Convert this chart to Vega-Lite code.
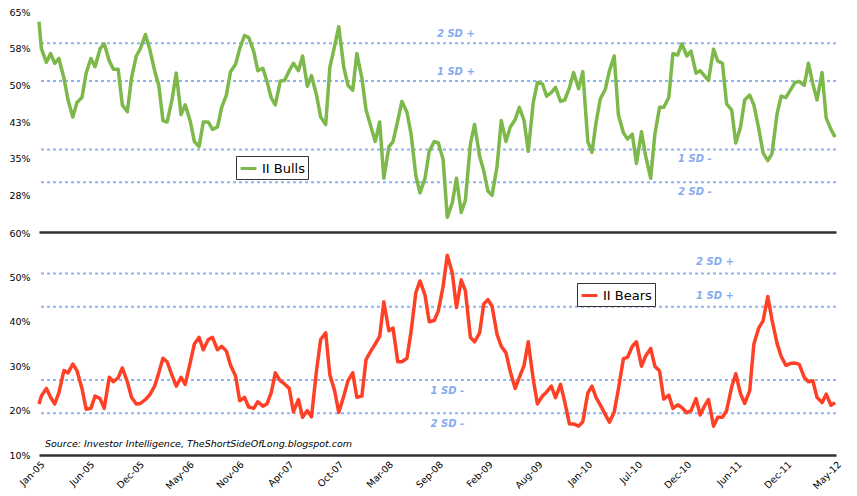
{
  "$schema": "https://vega.github.io/schema/vega-lite/v6.json",
  "padding": {"left": 8, "top": 7, "right": 15, "bottom": 0},
  "background": "white",
  "spacing": -4,
  "datasets": {
    "ii": [
      {"d": "2005-01-07", "bull": 63, "bear": 21.5},
      {"d": "2005-01-15", "bull": 57.5, "bear": 23.3},
      {"d": "2005-02-01", "bull": 54.7, "bear": 25},
      {"d": "2005-02-15", "bull": 56.5, "bear": 23},
      {"d": "2005-03-01", "bull": 54.5, "bear": 21.5},
      {"d": "2005-03-15", "bull": 55.5, "bear": 24},
      {"d": "2005-04-01", "bull": 51.5, "bear": 29},
      {"d": "2005-04-15", "bull": 47, "bear": 28.5},
      {"d": "2005-05-01", "bull": 43.5, "bear": 30.5},
      {"d": "2005-05-15", "bull": 46.5, "bear": 29},
      {"d": "2005-06-01", "bull": 47.5, "bear": 25},
      {"d": "2005-06-15", "bull": 52.5, "bear": 20.3},
      {"d": "2005-07-01", "bull": 55.5, "bear": 20.5},
      {"d": "2005-07-15", "bull": 53.8, "bear": 23.3},
      {"d": "2005-08-01", "bull": 57.5, "bear": 22.7},
      {"d": "2005-08-15", "bull": 58.5, "bear": 20.5},
      {"d": "2005-09-01", "bull": 55, "bear": 27.5},
      {"d": "2005-09-15", "bull": 53.3, "bear": 26.5},
      {"d": "2005-10-01", "bull": 53.3, "bear": 27.4},
      {"d": "2005-10-15", "bull": 46, "bear": 29.6},
      {"d": "2005-11-01", "bull": 44.6, "bear": 26.5},
      {"d": "2005-11-15", "bull": 51.5, "bear": 23},
      {"d": "2005-12-01", "bull": 56, "bear": 21.5},
      {"d": "2005-12-15", "bull": 57.5, "bear": 21.6},
      {"d": "2006-01-01", "bull": 60.4, "bear": 22.5},
      {"d": "2006-01-15", "bull": 57.5, "bear": 23.5},
      {"d": "2006-02-01", "bull": 53, "bear": 25.5},
      {"d": "2006-02-15", "bull": 50, "bear": 28.5},
      {"d": "2006-03-01", "bull": 42.8, "bear": 31.8},
      {"d": "2006-03-15", "bull": 42.5, "bear": 31},
      {"d": "2006-04-01", "bull": 47.2, "bear": 27.9},
      {"d": "2006-04-15", "bull": 52.5, "bear": 25.5},
      {"d": "2006-05-01", "bull": 44, "bear": 27.5},
      {"d": "2006-05-15", "bull": 46, "bear": 25.9},
      {"d": "2006-06-01", "bull": 42.7, "bear": 30.8},
      {"d": "2006-06-15", "bull": 38.5, "bear": 35},
      {"d": "2006-07-01", "bull": 37.5, "bear": 36.5},
      {"d": "2006-07-15", "bull": 42.5, "bear": 33.7},
      {"d": "2006-08-01", "bull": 42.5, "bear": 36},
      {"d": "2006-08-15", "bull": 41, "bear": 36.5},
      {"d": "2006-09-01", "bull": 41.5, "bear": 33.7},
      {"d": "2006-09-15", "bull": 45.5, "bear": 34.5},
      {"d": "2006-10-01", "bull": 48, "bear": 33.4},
      {"d": "2006-10-15", "bull": 52.8, "bear": 30.2},
      {"d": "2006-11-01", "bull": 54.3, "bear": 27.8},
      {"d": "2006-11-15", "bull": 57.5, "bear": 22.2},
      {"d": "2006-12-01", "bull": 60.2, "bear": 23},
      {"d": "2006-12-15", "bull": 59.8, "bear": 20.8},
      {"d": "2007-01-01", "bull": 57, "bear": 20.5},
      {"d": "2007-01-15", "bull": 53, "bear": 22},
      {"d": "2007-02-01", "bull": 53.5, "bear": 21},
      {"d": "2007-02-15", "bull": 50.8, "bear": 21.5},
      {"d": "2007-03-01", "bull": 47.5, "bear": 24},
      {"d": "2007-03-15", "bull": 46, "bear": 28.5},
      {"d": "2007-04-01", "bull": 50.9, "bear": 26.7},
      {"d": "2007-04-15", "bull": 51, "bear": 26},
      {"d": "2007-05-01", "bull": 53, "bear": 25},
      {"d": "2007-05-15", "bull": 54.5, "bear": 19.7},
      {"d": "2007-06-01", "bull": 53, "bear": 22.5},
      {"d": "2007-06-15", "bull": 56, "bear": 18.5},
      {"d": "2007-07-01", "bull": 49.8, "bear": 20},
      {"d": "2007-07-15", "bull": 52, "bear": 18.6},
      {"d": "2007-08-01", "bull": 48, "bear": 29},
      {"d": "2007-08-15", "bull": 43.5, "bear": 36},
      {"d": "2007-09-01", "bull": 42, "bear": 37.5},
      {"d": "2007-09-15", "bull": 53.7, "bear": 28},
      {"d": "2007-10-01", "bull": 58, "bear": 24.5},
      {"d": "2007-10-15", "bull": 62, "bear": 19.6},
      {"d": "2007-11-01", "bull": 53.7, "bear": 23.3},
      {"d": "2007-11-15", "bull": 50, "bear": 26.7},
      {"d": "2007-12-01", "bull": 49, "bear": 28.5},
      {"d": "2007-12-15", "bull": 56.5, "bear": 23},
      {"d": "2008-01-01", "bull": 51.5, "bear": 23.3},
      {"d": "2008-01-15", "bull": 45, "bear": 31.5},
      {"d": "2008-02-01", "bull": 41.4, "bear": 33.5},
      {"d": "2008-02-15", "bull": 38.5, "bear": 35},
      {"d": "2008-03-01", "bull": 42.5, "bear": 36.7},
      {"d": "2008-03-15", "bull": 31, "bear": 44.5},
      {"d": "2008-04-01", "bull": 37.4, "bear": 38},
      {"d": "2008-04-15", "bull": 38.5, "bear": 38.6},
      {"d": "2008-05-01", "bull": 42.8, "bear": 31},
      {"d": "2008-05-15", "bull": 46.7, "bear": 31},
      {"d": "2008-06-01", "bull": 44.5, "bear": 31.8},
      {"d": "2008-06-15", "bull": 40, "bear": 37.9},
      {"d": "2008-07-01", "bull": 31.5, "bear": 46.6},
      {"d": "2008-07-15", "bull": 28, "bear": 49.2},
      {"d": "2008-08-01", "bull": 31, "bear": 46},
      {"d": "2008-08-15", "bull": 36.5, "bear": 40},
      {"d": "2008-09-01", "bull": 38.5, "bear": 40.3},
      {"d": "2008-09-15", "bull": 38.2, "bear": 42.5},
      {"d": "2008-10-01", "bull": 34.8, "bear": 48},
      {"d": "2008-10-15", "bull": 23, "bear": 55},
      {"d": "2008-11-01", "bull": 26, "bear": 51},
      {"d": "2008-11-15", "bull": 31, "bear": 43.2},
      {"d": "2008-12-01", "bull": 24, "bear": 49.4},
      {"d": "2008-12-15", "bull": 26.5, "bear": 47},
      {"d": "2009-01-01", "bull": 38, "bear": 36.5},
      {"d": "2009-01-15", "bull": 42, "bear": 35.5},
      {"d": "2009-02-01", "bull": 35.5, "bear": 37.5},
      {"d": "2009-02-15", "bull": 32.5, "bear": 44},
      {"d": "2009-03-01", "bull": 28.4, "bear": 45},
      {"d": "2009-03-15", "bull": 27.5, "bear": 43.5},
      {"d": "2009-04-01", "bull": 33.5, "bear": 37.1},
      {"d": "2009-04-15", "bull": 42.8, "bear": 34.5},
      {"d": "2009-05-01", "bull": 38.5, "bear": 33},
      {"d": "2009-05-15", "bull": 41.4, "bear": 28.9},
      {"d": "2009-06-01", "bull": 43, "bear": 25},
      {"d": "2009-06-15", "bull": 45.5, "bear": 27.5},
      {"d": "2009-07-01", "bull": 42.8, "bear": 30.2},
      {"d": "2009-07-15", "bull": 36.5, "bear": 35.5},
      {"d": "2009-08-01", "bull": 46.5, "bear": 27},
      {"d": "2009-08-15", "bull": 50.6, "bear": 21.5},
      {"d": "2009-09-01", "bull": 50.3, "bear": 23.3},
      {"d": "2009-09-15", "bull": 47.8, "bear": 24.2},
      {"d": "2009-10-01", "bull": 48.5, "bear": 25.5},
      {"d": "2009-10-15", "bull": 49.6, "bear": 22.9},
      {"d": "2009-11-01", "bull": 46.7, "bear": 25.9},
      {"d": "2009-11-15", "bull": 47, "bear": 22},
      {"d": "2009-12-01", "bull": 49.5, "bear": 17},
      {"d": "2009-12-15", "bull": 52.6, "bear": 17},
      {"d": "2010-01-01", "bull": 49.3, "bear": 16.5},
      {"d": "2010-01-15", "bull": 52.8, "bear": 17.5},
      {"d": "2010-02-01", "bull": 38.5, "bear": 24},
      {"d": "2010-02-15", "bull": 36.3, "bear": 25.5},
      {"d": "2010-03-01", "bull": 42.5, "bear": 22.9},
      {"d": "2010-03-15", "bull": 47.2, "bear": 21.3},
      {"d": "2010-04-01", "bull": 49.2, "bear": 19.1},
      {"d": "2010-04-15", "bull": 53, "bear": 17.4},
      {"d": "2010-05-01", "bull": 56, "bear": 19.7},
      {"d": "2010-05-15", "bull": 44, "bear": 24.8},
      {"d": "2010-06-01", "bull": 40.3, "bear": 31.7},
      {"d": "2010-06-15", "bull": 39, "bear": 32},
      {"d": "2010-07-01", "bull": 40, "bear": 34.5},
      {"d": "2010-07-15", "bull": 34, "bear": 35.5},
      {"d": "2010-08-01", "bull": 40.5, "bear": 30},
      {"d": "2010-08-15", "bull": 35.5, "bear": 32.3},
      {"d": "2010-09-01", "bull": 31, "bear": 34},
      {"d": "2010-09-15", "bull": 40, "bear": 30},
      {"d": "2010-10-01", "bull": 45.5, "bear": 28.9},
      {"d": "2010-10-15", "bull": 45.5, "bear": 22.6},
      {"d": "2010-11-01", "bull": 47.5, "bear": 23.5},
      {"d": "2010-11-15", "bull": 56.5, "bear": 20.5},
      {"d": "2010-12-01", "bull": 56.2, "bear": 21.3},
      {"d": "2010-12-15", "bull": 58.5, "bear": 20.7},
      {"d": "2011-01-01", "bull": 56, "bear": 19.5},
      {"d": "2011-01-15", "bull": 57, "bear": 20},
      {"d": "2011-02-01", "bull": 52.5, "bear": 22.7},
      {"d": "2011-02-15", "bull": 53, "bear": 19},
      {"d": "2011-03-01", "bull": 52, "bear": 21},
      {"d": "2011-03-15", "bull": 51, "bear": 22.5},
      {"d": "2011-04-01", "bull": 57.4, "bear": 16.5},
      {"d": "2011-04-15", "bull": 55, "bear": 18.5},
      {"d": "2011-05-01", "bull": 54.5, "bear": 18.5},
      {"d": "2011-05-15", "bull": 46.2, "bear": 20},
      {"d": "2011-06-01", "bull": 45, "bear": 25.3},
      {"d": "2011-06-15", "bull": 38.2, "bear": 28.3},
      {"d": "2011-07-01", "bull": 41.5, "bear": 23.8},
      {"d": "2011-07-15", "bull": 47, "bear": 21.6},
      {"d": "2011-08-01", "bull": 48, "bear": 24.5},
      {"d": "2011-08-15", "bull": 46, "bear": 35},
      {"d": "2011-09-01", "bull": 41, "bear": 38.7},
      {"d": "2011-09-15", "bull": 36.2, "bear": 40.2},
      {"d": "2011-10-01", "bull": 34.6, "bear": 45.7},
      {"d": "2011-10-15", "bull": 36, "bear": 40.5},
      {"d": "2011-11-01", "bull": 44.1, "bear": 35.2},
      {"d": "2011-11-15", "bull": 47.8, "bear": 32.2},
      {"d": "2011-12-01", "bull": 47.5, "bear": 30.2},
      {"d": "2011-12-15", "bull": 48.9, "bear": 30.6},
      {"d": "2012-01-01", "bull": 50.6, "bear": 30.7},
      {"d": "2012-01-15", "bull": 50.8, "bear": 30.4},
      {"d": "2012-02-01", "bull": 50, "bear": 27.5},
      {"d": "2012-02-15", "bull": 54.5, "bear": 26.5},
      {"d": "2012-03-01", "bull": 50.3, "bear": 26.7},
      {"d": "2012-03-15", "bull": 47, "bear": 23},
      {"d": "2012-04-01", "bull": 52.6, "bear": 21.8},
      {"d": "2012-04-15", "bull": 43.3, "bear": 23.7},
      {"d": "2012-05-01", "bull": 41, "bear": 21.2},
      {"d": "2012-05-15", "bull": 39.4, "bear": 21.8}
    ],
    "sd": [
      {"panel": "bull", "label": "2 SD +", "level": 58.6, "side": "hi"},
      {"panel": "bull", "label": "1 SD +", "level": 50.9, "side": "hi"},
      {"panel": "bull", "label": "1 SD -", "level": 36.9, "side": "lo"},
      {"panel": "bull", "label": "2 SD -", "level": 30.2, "side": "lo"},
      {"panel": "bear", "label": "2 SD +", "level": 50.9, "side": "hi"},
      {"panel": "bear", "label": "1 SD +", "level": 43.4, "side": "hi"},
      {"panel": "bear", "label": "1 SD -", "level": 26.9, "side": "lo"},
      {"panel": "bear", "label": "2 SD -", "level": 19.4, "side": "lo"}
    ]
  },
  "vconcat": [
    {
      "width": 797,
      "height": 220,
      "layer": [
        {
          "data": {"name": "sd"},
          "transform": [{"filter": "datum.panel == 'bull'"}],
          "mark": {"type": "rule", "strokeDash": [3, 3], "strokeWidth": 2, "color": "#8ab4f8"},
          "encoding": {
            "y": {"field": "level", "type": "quantitative", "title": null, "scale": {"domain": [20, 65]}}
          }
        },
        {
          "data": {"name": "sd"},
          "transform": [{"filter": "datum.panel == 'bull' && datum.side == 'hi'"}],
          "mark": {"type": "text", "dy": -9, "fontStyle": "italic", "fontWeight": "bold", "fontSize": 10, "color": "#86aaf0"},
          "encoding": {
            "x": {"datum": {"year": 2008, "month": 11, "date": 13}, "type": "temporal"},
            "y": {"field": "level", "type": "quantitative", "title": null},
            "text": {"field": "label"}
          }
        },
        {
          "data": {"name": "sd"},
          "transform": [{"filter": "datum.panel == 'bull' && datum.side == 'lo'"}],
          "mark": {"type": "text", "dy": 10, "fontStyle": "italic", "fontWeight": "bold", "fontSize": 10, "color": "#86aaf0"},
          "encoding": {
            "x": {"datum": {"year": 2011, "month": 1, "date": 28}, "type": "temporal"},
            "y": {"field": "level", "type": "quantitative", "title": null},
            "text": {"field": "label"}
          }
        },
        {
          "data": {"name": "ii"},
          "mark": {"type": "line", "strokeWidth": 3.5, "strokeJoin": "round"},
          "encoding": {
            "x": {
              "field": "d", "type": "temporal", "title": null,
              "scale": {"domain": [{"year": 2005, "month": 1, "date": 7}, {"year": 2012, "month": 5, "date": 18}]},
              "axis": {"labels": false, "ticks": false, "domain": true, "domainColor": "#333333", "domainWidth": 2.5, "grid": false}
            },
            "y": {
              "field": "bull", "type": "quantitative", "title": null,
              "scale": {"domain": [20, 65]},
              "axis": {"values": [27.5, 35, 42.5, 50, 57.5, 65], "labelExpr": "format(datum.value, '.0f') + '%'", "domain": false, "ticks": false, "grid": false, "labelPadding": 9}
            },
            "color": {
              "datum": "II Bulls", "type": "nominal",
              "scale": {"range": ["#7cb94a"]},
              "legend": {"title": null, "orient": "none", "legendX": 197, "legendY": 144}
            }
          }
        }
      ]
    },
    {
      "width": 797,
      "height": 222,
      "layer": [
        {
          "data": {"name": "sd"},
          "transform": [{"filter": "datum.panel == 'bear'"}],
          "mark": {"type": "rule", "strokeDash": [3, 3], "strokeWidth": 2, "color": "#8ab4f8"},
          "encoding": {
            "y": {"field": "level", "type": "quantitative", "title": null, "scale": {"domain": [10, 60]}}
          }
        },
        {
          "data": {"name": "sd"},
          "transform": [{"filter": "datum.panel == 'bear' && datum.side == 'hi'"}],
          "mark": {"type": "text", "dy": -11, "fontStyle": "italic", "fontWeight": "bold", "fontSize": 10, "color": "#86aaf0"},
          "encoding": {
            "x": {"datum": {"year": 2011, "month": 4, "date": 6}, "type": "temporal"},
            "y": {"field": "level", "type": "quantitative", "title": null},
            "text": {"field": "label"}
          }
        },
        {
          "data": {"name": "sd"},
          "transform": [{"filter": "datum.panel == 'bear' && datum.side == 'lo'"}],
          "mark": {"type": "text", "dy": 11, "fontStyle": "italic", "fontWeight": "bold", "fontSize": 10, "color": "#86aaf0"},
          "encoding": {
            "x": {"datum": {"year": 2008, "month": 10, "date": 15}, "type": "temporal"},
            "y": {"field": "level", "type": "quantitative", "title": null},
            "text": {"field": "label"}
          }
        },
        {
          "data": {"name": "ii"},
          "mark": {"type": "line", "strokeWidth": 3.5, "strokeJoin": "round"},
          "encoding": {
            "x": {
              "field": "d", "type": "temporal", "title": null,
              "scale": {"domain": [{"year": 2005, "month": 1, "date": 7}, {"year": 2012, "month": 5, "date": 18}]},
              "axis": {
                "values": [
                  {"year": 2005, "month": 1, "date": 7}, {"year": 2005, "month": 6, "date": 24},
                  {"year": 2005, "month": 12, "date": 9}, {"year": 2006, "month": 5, "date": 26},
                  {"year": 2006, "month": 11, "date": 10}, {"year": 2007, "month": 4, "date": 27},
                  {"year": 2007, "month": 10, "date": 12}, {"year": 2008, "month": 3, "date": 28},
                  {"year": 2008, "month": 9, "date": 12}, {"year": 2009, "month": 2, "date": 27},
                  {"year": 2009, "month": 8, "date": 14}, {"year": 2010, "month": 1, "date": 29},
                  {"year": 2010, "month": 7, "date": 16}, {"year": 2010, "month": 12, "date": 29},
                  {"year": 2011, "month": 6, "date": 17}, {"year": 2011, "month": 12, "date": 2},
                  {"year": 2012, "month": 5, "date": 17}
                ],
                "format": "%b-%y", "labelAngle": -45, "labelPadding": 4,
                "ticks": false, "domain": true, "domainColor": "#333333", "domainWidth": 2.5, "grid": false
              }
            },
            "y": {
              "field": "bear", "type": "quantitative", "title": null,
              "scale": {"domain": [10, 60]},
              "axis": {"values": [10, 20, 30, 40, 50, 60], "labelExpr": "format(datum.value, '.0f') + '%'", "domain": false, "ticks": false, "grid": false, "labelPadding": 9}
            },
            "color": {
              "datum": "II Bears", "type": "nominal",
              "scale": {"range": ["#fe4126"]},
              "legend": {"title": null, "orient": "none", "legendX": 538, "legendY": 50}
            }
          }
        },
        {
          "data": {"values": [{"source": "Source: Investor Intelligence, TheShortSideOfLong.blogspot.com"}]},
          "mark": {"type": "text", "align": "left", "baseline": "middle", "fontStyle": "italic", "fontSize": 9.5, "color": "#000000"},
          "encoding": {
            "x": {"datum": {"year": 2005, "month": 1, "date": 27}, "type": "temporal"},
            "y": {"datum": 12.4, "type": "quantitative"},
            "text": {"field": "source"}
          }
        }
      ]
    }
  ],
  "resolve": {"scale": {"color": "independent"}, "legend": {"color": "independent"}},
  "config": {
    "view": {"stroke": null},
    "font": "DejaVu Sans",
    "axis": {"labelFont": "DejaVu Sans", "labelFontSize": 9.5, "labelColor": "#000000"},
    "legend": {
      "labelFont": "DejaVu Sans", "labelFontSize": 13, "labelColor": "#000000",
      "symbolType": "stroke", "symbolStrokeWidth": 3, "symbolSize": 250,
      "strokeColor": "#333333", "padding": 3, "cornerRadius": 0, "fillColor": "white"
    }
  }
}
